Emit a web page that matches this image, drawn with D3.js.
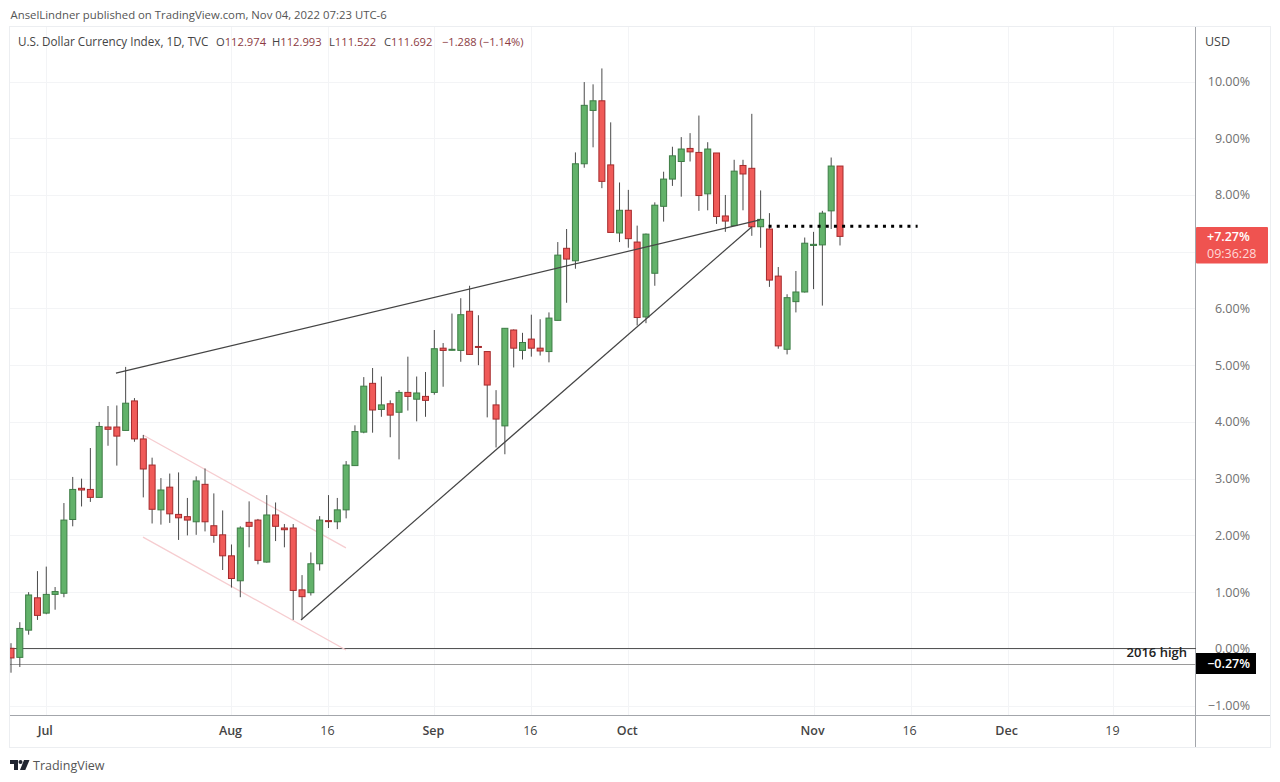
<!DOCTYPE html>
<html><head><meta charset="utf-8">
<style>html,body{margin:0;padding:0;background:#fff}svg{display:block}text{font-family:"Open Sans","Noto Sans",sans-serif}</style>
<script src="https://cdn.jsdelivr.net/npm/d3@7"></script></head><body><div id="c"></div>
<script>
const opens=[0.01,-0.15,0.33,0.90,0.63,0.96,0.98,2.28,2.83,2.81,2.67,3.91,3.91,3.85,4.37,3.70,3.24,2.45,2.85,2.37,2.33,2.24,2.90,2.17,2.01,1.64,1.20,2.23,2.27,1.53,2.36,2.13,2.13,1.04,0.99,1.50,2.26,2.24,2.45,3.23,3.82,4.68,4.22,4.32,4.17,4.52,4.40,4.45,4.52,5.30,5.27,5.26,5.95,5.33,5.24,4.30,3.93,5.62,5.26,5.46,5.30,5.24,5.79,7.06,6.84,8.55,9.49,9.66,8.53,7.33,7.73,7.17,5.85,6.62,7.80,8.28,8.59,8.82,8.75,8.02,8.74,7.63,7.46,8.52,8.47,7.44,7.40,6.57,5.28,6.12,6.29,7.11,7.12,7.72,8.51];
const highs=[0.10,0.47,1.00,1.37,1.45,1.09,2.57,3.03,3.00,3.54,4.00,4.28,4.29,4.97,4.42,3.77,3.37,3.01,3.09,3.11,2.66,3.04,3.18,2.74,2.44,1.84,2.16,2.60,2.29,2.71,2.58,2.20,2.20,1.30,1.70,2.34,2.71,2.66,3.31,3.94,4.79,4.95,4.80,4.38,4.56,5.15,4.80,4.88,5.62,5.39,5.91,6.18,6.40,5.88,5.24,4.56,5.65,5.63,5.57,5.89,5.81,5.93,7.17,7.40,8.75,9.99,9.95,10.23,9.28,8.22,8.09,7.46,7.32,7.87,8.41,8.85,9.02,9.09,9.40,8.93,8.74,8.00,8.62,8.62,9.43,8.08,7.68,6.73,6.25,6.66,7.25,7.35,7.72,8.66,8.51];
const lows=[-0.42,-0.32,0.25,0.51,0.61,0.69,0.91,2.16,2.51,2.59,2.67,3.58,3.23,3.85,3.65,2.67,2.21,2.19,2.22,1.92,2.00,2.01,2.07,1.87,1.39,1.08,0.91,1.79,1.49,1.52,1.90,1.79,0.51,0.52,0.94,1.38,2.13,2.11,2.30,3.23,3.80,3.81,4.09,3.73,3.34,4.20,4.01,4.09,4.48,4.62,5.26,5.06,5.18,5.00,4.08,3.55,3.43,4.96,5.10,5.15,5.17,5.05,5.79,6.10,6.70,8.48,8.84,8.12,7.34,7.17,7.07,5.70,5.74,6.40,7.53,8.16,7.97,8.59,7.72,7.73,7.49,7.35,7.46,7.73,7.28,7.07,6.38,5.29,5.19,5.93,6.28,6.34,6.05,7.40,7.11];
const closes=[-0.16,0.36,0.95,0.59,0.96,1.01,2.27,2.81,2.80,2.67,3.92,3.87,3.75,4.33,3.70,3.17,2.46,2.80,2.38,2.31,2.27,2.96,2.24,2.00,1.64,1.24,2.13,2.16,1.56,2.36,2.16,2.10,1.03,0.92,1.50,2.27,2.25,2.45,3.24,3.83,4.63,4.21,4.30,4.12,4.52,4.45,4.51,4.38,5.29,5.26,5.28,5.89,5.19,5.32,4.65,4.05,5.65,5.30,5.40,5.30,5.25,5.83,6.94,6.87,8.55,9.58,9.66,8.24,7.34,7.73,7.23,5.84,7.31,7.82,8.28,8.69,8.81,8.76,7.99,8.81,7.62,7.54,8.42,8.37,7.44,7.57,6.50,5.34,6.19,6.29,7.15,7.13,7.68,8.51,7.27];

const timeTicks=[4,25,36,48,59,70,91,102,113,125];
const timeLabels=["Jul","Aug","16","Sep","16","Oct","Nov","16","Dec","19"];
const monthTicks=["Jul","Aug","Sep","Oct","Nov","Dec"];
const pctTicks=[-1,0,1,2,3,4,5,6,7,8,9,10];
const pctLabels=[-1,0,1,2,3,4,5,6,8,9,10];

const trendUpper=[[11.9,4.86],[84.92,7.56]];
const trendLower=[[32.88,0.51],[84.01,7.44]];
const channelTop=[[14.97,3.77],[37.98,1.78]];
const channelBottom=[[14.97,1.97],[37.98,-0.02]];
const dottedLevel=[[85.9,7.45],[102.8,7.45]];
const highLevel=0;
const lastBase=-0.27;
const lastPct=7.27;

const W=1280,H=782,L=10,R=1196,T=27,B=716,AR=1270,BB=747;
const svg=d3.select("#c").append("svg").attr("width",W).attr("height",H);
const x=d3.scaleLinear().domain([0,94]).range([11,840]);
const y=d3.scaleLinear().domain([-1,10]).range([705.6,81.5]);
const lineGen=d3.line().x(d=>x(d[0])).y(d=>y(d[1]));

svg.append("defs").append("clipPath").attr("id","pane").append("rect").attr("x",L).attr("y",T).attr("width",R-L).attr("height",B-T);

// grid
const grid=svg.append("g").attr("stroke","#f3f4f6").attr("stroke-width",1);
grid.selectAll("line.v").data(timeTicks).join("line").attr("class","v")
  .attr("x1",d=>Math.round(x(d))+.5).attr("x2",d=>Math.round(x(d))+.5).attr("y1",T).attr("y2",B);
grid.selectAll("line.h").data(pctTicks).join("line").attr("class","h")
  .attr("x1",L).attr("x2",R).attr("y1",d=>Math.round(y(d))+.5).attr("y2",d=>Math.round(y(d))+.5);

// frame
const fr=svg.append("g").attr("fill","none");
fr.append("rect").attr("x",L-.5).attr("y",T-.5).attr("width",AR-L+1).attr("height",BB-T+1).attr("stroke","#eceef1");
fr.append("line").attr("x1",L).attr("x2",AR).attr("y1",B-.5).attr("y2",B-.5).attr("stroke","#a3a6ab");
fr.append("line").attr("x1",R-.5).attr("x2",R-.5).attr("y1",T).attr("y2",BB).attr("stroke","#a3a6ab");

const pane=svg.append("g").attr("clip-path","url(#pane)");

// level lines
pane.append("line").attr("x1",L).attr("x2",R).attr("y1",Math.round(y(highLevel))-.5).attr("y2",Math.round(y(highLevel))-.5).attr("stroke","#555").attr("stroke-width",1);
pane.append("line").attr("x1",L).attr("x2",R).attr("y1",Math.round(y(lastBase))+.5).attr("y2",Math.round(y(lastBase))+.5).attr("stroke","#9a9a9a").attr("stroke-width",1);

// channel
[channelTop,channelBottom].forEach(d=>pane.append("path").attr("d",lineGen(d)).attr("fill","none").attr("stroke","#f6cdd0").attr("stroke-width",1.3));

// candles
const idx=d3.range(opens.length);
const up=i=>closes[i]>=opens[i];
const cw=6;
pane.selectAll("line.w").data(idx).join("line").attr("class","w")
  .attr("x1",i=>x(i)).attr("x2",i=>x(i)).attr("y1",i=>y(highs[i])).attr("y2",i=>y(lows[i]))
  .attr("stroke","#4a4a4a").attr("stroke-width",1);
pane.selectAll("rect.b").data(idx).join("rect").attr("class","b")
  .attr("x",i=>x(i)-cw/2).attr("width",cw)
  .attr("y",i=>y(Math.max(opens[i],closes[i])))
  .attr("height",i=>Math.max(1,Math.abs(y(opens[i])-y(closes[i]))))
  .attr("fill",i=>up(i)?"#62b26a":"#f05a58")
  .attr("stroke",i=>up(i)?"#3d7d45":"#a52a2c").attr("stroke-width",1);

// trend lines
[trendUpper,trendLower].forEach(d=>pane.append("path").attr("d",lineGen(d)).attr("fill","none").attr("stroke","#444").attr("stroke-width",1.2));
pane.append("path").attr("d",lineGen(dottedLevel)).attr("fill","none").attr("stroke","#000").attr("stroke-width",3).attr("stroke-dasharray","3 5.17");

// annotation
svg.append("text").attr("x",1187).attr("y",657).attr("text-anchor","end").attr("font-size",13).attr("font-weight",600).attr("fill","#222").text("2016 high");

// time axis
svg.selectAll("text.t").data(timeTicks).join("text").attr("class","t")
  .attr("x",d=>x(d)-1).attr("y",735).attr("text-anchor","middle").attr("font-size",12.5)
  .attr("font-weight",(d,i)=>monthTicks.includes(timeLabels[i])?600:400)
  .attr("fill","#444").text((d,i)=>timeLabels[i]);

// price axis
const pctFmt=d=>(d<0?"\u2212":"")+Math.abs(d).toFixed(2)+"%";
svg.selectAll("text.p").data(pctLabels).join("text").attr("class","p")
  .attr("x",1250).attr("y",d=>y(d)+4.5).attr("text-anchor","end").attr("font-size",12.5)
  .attr("fill","#707070").text(pctFmt);
svg.append("text").attr("x",1205).attr("y",46).attr("font-size",12.5).attr("fill","#444").text("USD");

// last price labels
svg.append("rect").attr("x",R).attr("y",227).attr("width",72).attr("height",36.5).attr("rx",1).attr("fill","#ef5350");
svg.append("text").attr("x",1207).attr("y",240.5).attr("font-size",12.5).attr("font-weight",600).attr("fill","#fff").text("+"+lastPct.toFixed(2)+"%");
svg.append("text").attr("x",1207).attr("y",258).attr("font-size",12.5).attr("fill","#ffd9d8").text("09:36:28");
svg.append("rect").attr("x",R).attr("y",653).attr("width",60).attr("height",21).attr("fill","#000");
svg.append("text").attr("x",1250).attr("y",668).attr("text-anchor","end").attr("font-size",12.5).attr("font-weight",600).attr("fill","#fff").text(pctFmt(lastBase));

// header
svg.append("text").attr("x",10.5).attr("y",19).attr("font-size",11.35).attr("fill","#555").text("AnselLindner published on TradingView.com, Nov 04, 2022 07:23 UTC-6");
svg.append("text").attr("x",18).attr("y",46).attr("font-size",11.7).attr("fill","#444").text("U.S. Dollar Currency Index, 1D, TVC");
const ohlc=[["O","112.974"],["H","112.993"],["L","111.522"],["C","111.692"]];
const starts=[216,272,329,384];
ohlc.forEach((p,i)=>{
  const t=svg.append("text").attr("x",starts[i]).attr("y",46).attr("font-size",11.2).attr("fill","#444");
  t.append("tspan").text(p[0]);
  t.append("tspan").attr("fill","#8c3b3f").text(p[1]);
});
svg.append("text").attr("x",442).attr("y",46).attr("font-size",11.1).attr("fill","#8c3b3f").text("\u22121.288 (\u22121.14%)");

// logo and footer
const logo=svg.append("g").attr("fill","#1f2430");
logo.append("path").attr("d","M10 760h8v10h-4v-6h-4z");
logo.append("circle").attr("cx",20.5).attr("cy",762).attr("r",2);
logo.append("path").attr("d","M24 760h5.5l-4.2 10h-5.3z");
svg.append("text").attr("x",33).attr("y",770).attr("font-size",12.5).attr("fill","#555").text("TradingView");
</script></body></html>
